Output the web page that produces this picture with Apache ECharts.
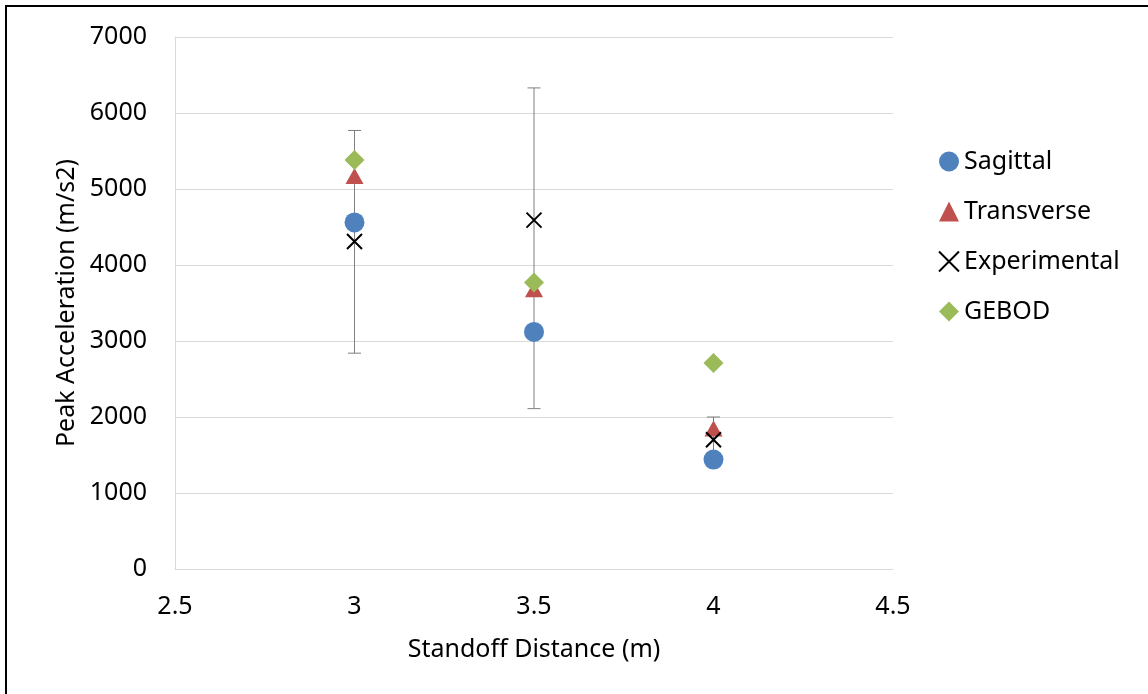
<!DOCTYPE html>
<html>
<head>
<meta charset="utf-8">
<script src="https://cdn.jsdelivr.net/npm/echarts@6/dist/echarts.min.js"></script>
<style>
    html, body { margin: 0; padding: 0; background: #fff; }
    .frame {
        position: absolute; left: 5px; top: 5px; width: 1200px; height: 800px;
        border-left: 2px solid #000; border-top: 2px solid #000;
    }
    #chart { position: absolute; left: 0; top: 0; width: 1148px; height: 694px; }
</style>
</head>
<body>
<div class="frame"></div>
<div id="chart"></div>
<script>
// standoff distance (m)
const distances = [3, 3.5, 4];
// peak acceleration (m/s2)
const sagittal = [4560, 3120, 1440];
const transverse = [5170, 3680, 1850];
const experimental = [4310, 4590, 1700];
const gebod = [5380, 3770, 2710];
// experimental error bar ends
const errLow = [2840, 2110, 1400];
const errHigh = [5770, 6330, 2000];

const font = 'Noto Sans';
const fs = 25;

function pairs(ys) {
    return distances.map((x, i) => [x, ys[i]]);
}

const chart = echarts.init(document.getElementById('chart'));
chart.setOption({
    animation: false,
    textStyle: { fontFamily: font },
    grid: { left: 175, top: 37, right: 255, bottom: 125 },
    legend: {
        orient: 'vertical',
        left: 938,
        top: 149,
        padding: 0,
        itemWidth: 20,
        itemHeight: 20,
        itemGap: 25,
        textStyle: { fontSize: fs, color: '#000', fontFamily: font },
        data: ['Sagittal', 'Transverse', 'Experimental', 'GEBOD']
    },
    xAxis: {
        type: 'value',
        min: 2.5,
        max: 4.5,
        interval: 0.5,
        name: 'Standoff Distance (m)',
        nameLocation: 'middle',
        nameGap: 68,
        nameTextStyle: { fontSize: fs, color: '#000' },
        axisLine: { lineStyle: { color: '#d9d9d9', width: 1 } },
        axisTick: { show: false },
        splitLine: { show: false },
        axisLabel: { fontSize: fs, color: '#000', margin: 25 }
    },
    yAxis: {
        type: 'value',
        min: 0,
        max: 7000,
        interval: 1000,
        name: 'Peak Acceleration (m/s2)',
        nameLocation: 'middle',
        nameGap: 95,
        nameTextStyle: { fontSize: fs, color: '#000' },
        axisLine: { show: true, lineStyle: { color: '#d9d9d9', width: 1 } },
        axisTick: { show: false },
        splitLine: { lineStyle: { color: '#d9d9d9', width: 1 } },
        axisLabel: { fontSize: fs, color: '#000', margin: 28, formatter: v => String(v) }
    },
    series: [
        {
            name: 'errorbar',
            type: 'custom',
            data: distances.map((x, i) => [x, errLow[i], errHigh[i]]),
            encode: { x: 0, y: [1, 2] },
            renderItem: function (params, api) {
                const lo = api.coord([api.value(0), api.value(1)]);
                const hi = api.coord([api.value(0), api.value(2)]);
                const w = 6.5;
                const style = { stroke: '#7f7f7f', lineWidth: 1 };
                return {
                    type: 'group',
                    children: [
                        { type: 'line', shape: { x1: lo[0], y1: lo[1], x2: hi[0], y2: hi[1] }, style: style },
                        { type: 'line', shape: { x1: lo[0] - w, y1: lo[1], x2: lo[0] + w, y2: lo[1] }, style: style },
                        { type: 'line', shape: { x1: hi[0] - w, y1: hi[1], x2: hi[0] + w, y2: hi[1] }, style: style }
                    ]
                };
            },
            z: 1
        },
        {
            name: 'Sagittal',
            type: 'scatter',
            symbol: 'circle',
            symbolSize: 20,
            itemStyle: { color: '#4f81bd', opacity: 1 },
            data: pairs(sagittal),
            z: 2
        },
        {
            name: 'Transverse',
            type: 'scatter',
            symbol: 'triangle',
            symbolSize: [18, 16],
            itemStyle: { color: '#c0504d', opacity: 1 },
            data: pairs(transverse),
            z: 3
        },
        {
            name: 'Experimental',
            type: 'scatter',
            symbol: 'path://M0,0L10,10M10,0L0,10',
            symbolSize: 15,
            itemStyle: { color: 'rgba(0,0,0,0)', borderColor: '#000', borderWidth: 2, opacity: 1 },
            data: pairs(experimental),
            z: 4
        },
        {
            name: 'GEBOD',
            type: 'scatter',
            symbol: 'diamond',
            symbolSize: 20,
            itemStyle: { color: '#9bbb59', opacity: 1 },
            data: pairs(gebod),
            z: 5
        }
    ]
});
</script>
</body>
</html>
